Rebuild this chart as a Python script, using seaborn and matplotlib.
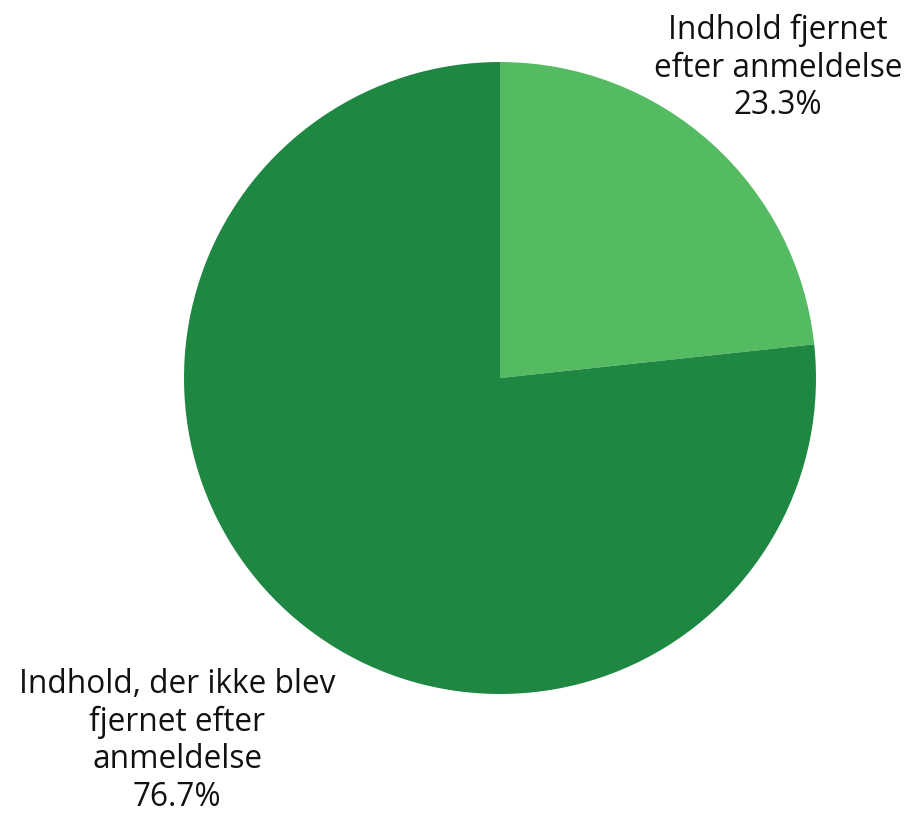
import matplotlib
matplotlib.use("Agg")
import matplotlib.pyplot as plt
import seaborn as sns

# slice data, clockwise from 12 o'clock
labels = ["Indhold fjernet\nefter anmeldelse", "Indhold, der ikke blev\nfjernet efter\nanmeldelse"]
shares = [23.3, 76.7]
colors = ["#55bb63", "#1e8742"]

sns.set_theme(style="white")
plt.rcParams["font.family"] = ["Open Sans", "DejaVu Sans"]

W, H = 911, 815
fig = plt.figure(figsize=(W / 100, H / 100), dpi=100)
ax = fig.add_axes([0, 0, 1, 1])

# pie in pixel-like coordinates so the layout matches the reference
cx, cy, r = 500, H - 378, 316
ax.pie(shares, colors=colors, startangle=90, counterclock=False,
       center=(cx, cy), radius=r, wedgeprops=dict(linewidth=0))

ax.set_xlim(0, W)
ax.set_ylim(0, H)
ax.set_aspect("equal")
ax.axis("off")

label_pos = [(778, H - 68), (177, H - 741)]
for lab, val, (x, y) in zip(labels, shares, label_pos):
    ax.text(x, y, f"{lab}\n{val:.1f}%", ha="center", va="center",
            fontsize=22.8, color="#111111", linespacing=1.17)

fig.savefig("out.png", dpi=100)
